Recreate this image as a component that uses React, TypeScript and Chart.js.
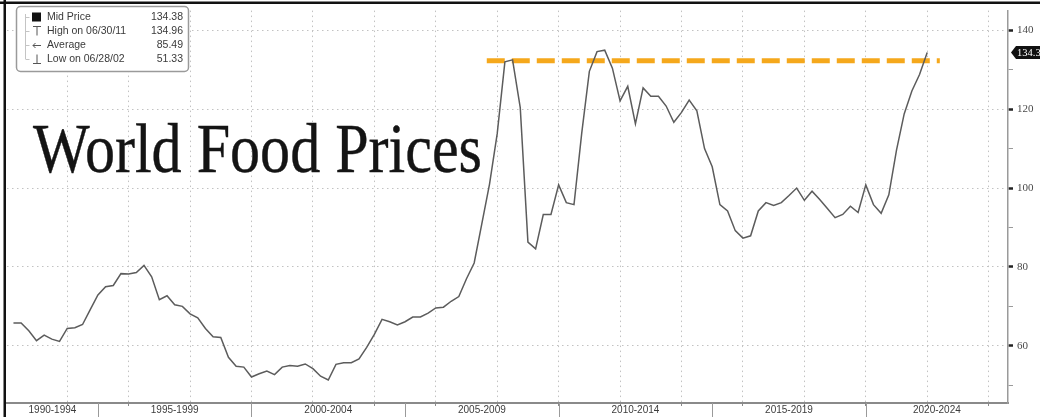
import React, { useEffect, useRef } from "react";
import { Chart, registerables } from "chart.js";

Chart.register(...registerables);

// ---- data ----
const firstQuarterEnd = 1992.25; // Q1 1992, quarterly observations
const midPrice = [
  65.8, 65.8, 63.8, 61.3, 62.7, 61.7, 61.1, 64.4, 64.6, 65.4,
  69.2, 72.9, 75.0, 75.3, 78.3, 78.2, 78.6, 80.4, 77.5, 71.7,
  72.7, 70.4, 70.0, 68.1, 67.1, 64.4, 62.3, 62.1, 57.1, 54.8,
  54.6, 52.1, 52.9, 53.6, 52.7, 54.6, 55.0, 54.8, 55.4, 54.2,
  52.3, 51.33, 55.3, 55.7, 55.7, 56.7, 59.6, 62.9, 66.7, 66.1,
  65.3, 66.1, 67.3, 67.3, 68.3, 69.6, 69.8, 71.3, 72.5, 77.0,
  81.0, 91.0, 101.0, 113.8, 132.0, 132.5, 120.4, 86.3, 84.6, 93.3,
  93.3, 100.8, 96.3, 95.8, 113.8, 129.6, 134.6, 134.96, 130.4, 122.1,
  125.8, 116.3, 125.4, 123.3, 123.3, 120.8, 116.7, 119.2, 122.3, 119.6,
  110.0, 105.4, 95.8, 94.2, 89.2, 87.3, 87.9, 94.2, 96.3, 95.6,
  96.3, 98.1, 100.0, 96.9, 99.2, 97.1, 94.8, 92.5, 93.3, 95.4,
  93.8, 100.8, 95.8, 93.6, 98.3, 109.6, 118.8, 124.6, 128.8, 134.38,
];
const refLevel = 132.3;
const refStart = 2007.66;
const refEnd = 2022.41;

const periodLabels = ["1990-1994", "1995-1999", "2000-2004", "2005-2009", "2010-2014", "2015-2019", "2020-2024"];
const periodStarts = [1990, 1995, 2000, 2005, 2010, 2015, 2020];
const gridYears = [1994, 1996, 1998, 2000, 2002, 2004, 2006, 2008, 2010, 2012, 2014, 2016, 2018, 2020, 2022, 2024];
const yTicks = [50, 60, 70, 80, 90, 100, 110, 120, 130, 140];
const yLabeled = [60, 80, 100, 120, 140];

const legendLabels = ["Mid Price", "High on 06/30/11", "Average", "Low on 06/28/02"];
const legendValues = ["134.38", "134.96", "85.49", "51.33"];
const titleText = "World Food Prices";

const xMin = 1992.04;
const xMax = 2024.63;
const yMin = 45.5;
const yMax = 145;

// ---- derived ----
const linePoints = midPrice.map((v, i) => ({ x: firstQuarterEnd + i * 0.25, y: v }));
const refPoints = [
  { x: refStart, y: refLevel },
  { x: refEnd, y: refLevel },
];
const labelCenters = periodStarts.map((s) => {
  const a = Math.max(s, xMin);
  const b = Math.min(s + 5, xMax);
  return (a + b) / 2;
});

function findLabel(v: number): string {
  for (let i = 0; i < labelCenters.length; i++) {
    if (Math.abs(labelCenters[i] - v) < 1e-6) return periodLabels[i];
  }
  return "";
}
const isGridYear = (v: any) => gridYears.some((g) => Math.abs(g - v) < 1e-6);

const decorPlugin = {
  id: "decor",
  beforeDatasetsDraw(chart: any) {
    const ctx = chart.ctx;
    ctx.save();
    ctx.font = '70px "Liberation Serif", "DejaVu Serif", serif';
    const w = ctx.measureText(titleText).width;
    ctx.translate(33, 172);
    ctx.scale(449 / w, 1);
    ctx.fillStyle = "#141414";
    ctx.strokeStyle = "#141414";
    ctx.lineWidth = 0.4;
    ctx.textBaseline = "alphabetic";
    ctx.textAlign = "left";
    ctx.fillText(titleText, 0, 0);
    ctx.strokeText(titleText, 0, 0);
    ctx.restore();
  },
  afterDraw(chart: any) {
    const ctx = chart.ctx;
    const area = chart.chartArea;
    const xs = chart.scales.x;
    const ys = chart.scales.y;
    ctx.save();

    // period dividers under the axis
    ctx.strokeStyle = "#9a9a9a";
    ctx.lineWidth = 1;
    periodStarts.forEach((s) => {
      const px = xs.getPixelForValue(s);
      if (px > area.left + 2 && px < area.right - 2) {
        ctx.beginPath();
        ctx.moveTo(Math.round(px) + 0.5, area.bottom);
        ctx.lineTo(Math.round(px) + 0.5, chart.height);
        ctx.stroke();
      }
    });

    // last value tag
    const last = midPrice[midPrice.length - 1];
    const ty = ys.getPixelForValue(last);
    const tx = area.right + 4;
    ctx.fillStyle = "#111";
    ctx.beginPath();
    ctx.moveTo(tx - 1, ty);
    ctx.lineTo(tx + 4, ty - 6.5);
    ctx.lineTo(chart.width + 5, ty - 6.5);
    ctx.lineTo(chart.width + 5, ty + 6.5);
    ctx.lineTo(tx + 4, ty + 6.5);
    ctx.closePath();
    ctx.fill();
    ctx.fillStyle = "#fff";
    ctx.font = '10.5px "Liberation Serif", "DejaVu Serif", serif';
    ctx.textBaseline = "middle";
    ctx.textAlign = "left";
    ctx.fillText(last.toFixed(2), tx + 5, ty + 0.5);

    // legend box
    const bx = 16.5, by = 6.5, bw = 172, bh = 65;
    ctx.beginPath();
    ctx.roundRect(bx, by, bw, bh, 4);
    ctx.fillStyle = "#fff";
    ctx.fill();
    ctx.strokeStyle = "#9a9a9a";
    ctx.lineWidth = 1.5;
    ctx.stroke();

    const rowY = (i: number) => 17 + i * 14;
    // tree
    ctx.strokeStyle = "#c4c4c4";
    ctx.lineWidth = 1;
    ctx.beginPath();
    ctx.moveTo(25.5, rowY(0) - 3);
    ctx.lineTo(25.5, rowY(3));
    for (let i = 0; i < 4; i++) {
      ctx.moveTo(25.5, rowY(i) + 0.5);
      ctx.lineTo(29.5, rowY(i) + 0.5);
    }
    ctx.stroke();

    // icons
    ctx.fillStyle = "#111";
    ctx.fillRect(32, rowY(0) - 4.5, 9, 9);
    ctx.strokeStyle = "#555";
    ctx.lineWidth = 1;
    ctx.beginPath();
    ctx.moveTo(33, rowY(1) - 4.5);
    ctx.lineTo(41, rowY(1) - 4.5);
    ctx.moveTo(37, rowY(1) - 4.5);
    ctx.lineTo(37, rowY(1) + 4.5);
    ctx.moveTo(33, rowY(2) + 0.5);
    ctx.lineTo(41, rowY(2) + 0.5);
    ctx.moveTo(35.5, rowY(2) - 2);
    ctx.lineTo(33, rowY(2) + 0.5);
    ctx.lineTo(35.5, rowY(2) + 3);
    ctx.moveTo(37, rowY(3) - 4.5);
    ctx.lineTo(37, rowY(3) + 4.5);
    ctx.moveTo(33, rowY(3) + 4.5);
    ctx.lineTo(41, rowY(3) + 4.5);
    ctx.stroke();

    ctx.fillStyle = "#3a3a3a";
    ctx.font = '10.5px "Liberation Sans", Arial, sans-serif';
    ctx.textBaseline = "middle";
    legendLabels.forEach((l, i) => {
      ctx.textAlign = "left";
      ctx.fillText(l, 47, rowY(i) + 0.5);
      ctx.textAlign = "right";
      ctx.fillText(legendValues[i], 183, rowY(i) + 0.5);
    });

    // black frame (top + left)
    ctx.fillStyle = "#111";
    ctx.fillRect(0, 1.5, chart.width, 2.5);
    ctx.fillRect(3.5, 0, 2.5, chart.height);
    ctx.restore();
  },
};

export default function App() {
  const canvasRef = useRef<HTMLCanvasElement | null>(null);

  useEffect(() => {
    document.body.style.margin = "0";
    const canvas = canvasRef.current;
    if (!canvas) return;
    const chart = new Chart(canvas, {
      type: "line",
      data: {
        datasets: [
          {
            label: "Mid Price",
            data: linePoints,
            borderColor: "#5c5c5c",
            borderWidth: 1.5,
            pointRadius: 0,
            tension: 0,
            fill: false,
          },
          {
            label: "Reference",
            data: refPoints,
            borderColor: "#F5A81C",
            borderWidth: 5,
            borderDash: [18, 7],
            borderCapStyle: "butt",
            pointRadius: 0,
            fill: false,
          },
        ],
      },
      options: {
        animation: false,
        responsive: false,
        devicePixelRatio: 1,
        layout: { padding: { top: 5, left: 7, right: 0, bottom: 0 } },
        plugins: {
          legend: { display: false },
          tooltip: { enabled: false },
          title: { display: false },
        },
        scales: {
          x: {
            type: "linear",
            position: "bottom",
            min: xMin,
            max: xMax,
            afterBuildTicks: (scale: any) => {
              const vals = [...gridYears, ...labelCenters].sort((a, b) => a - b);
              scale.ticks = vals.map((v) => ({ value: v }));
            },
            afterFit: (scale: any) => {
              scale.height = 14;
            },
            ticks: {
              autoSkip: false,
              maxRotation: 0,
              minRotation: 0,
              padding: -2,
              color: "#3c3c3c",
              font: { family: '"Liberation Sans", Arial, sans-serif', size: 10 },
              callback: (value: any) => findLabel(Number(value)),
            },
            grid: {
              drawOnChartArea: true,
              drawTicks: true,
              tickLength: 3,
              lineWidth: 1,
              color: (c: any) => (c.tick && isGridYear(c.tick.value) ? "#c2c2c2" : "transparent"),
              tickColor: (c: any) => (c.tick && isGridYear(c.tick.value) ? "#8a8a8a" : "transparent"),
            },
            border: { display: true, color: "#8a8a8a", width: 2, dash: [1.5, 3.5] },
          },
          y: {
            type: "linear",
            position: "right",
            min: yMin,
            max: yMax,
            afterBuildTicks: (scale: any) => {
              scale.ticks = yTicks.map((v) => ({ value: v }));
            },
            afterFit: (scale: any) => {
              scale.width = 32;
            },
            ticks: {
              padding: 4,
              color: "#4a4a4a",
              font: { family: '"Liberation Serif", "DejaVu Serif", serif', size: 11 },
              callback: (value: any) => (yLabeled.includes(Number(value)) ? String(value) : ""),
            },
            grid: {
              drawOnChartArea: true,
              drawTicks: true,
              tickLength: 5,
              color: (c: any) => (c.tick && yLabeled.includes(c.tick.value) ? "#c2c2c2" : "transparent"),
              tickColor: (c: any) => (c.tick && yLabeled.includes(c.tick.value) ? "#222" : "#9a9a9a"),
              tickWidth: (c: any) => (c.tick && yLabeled.includes(c.tick.value) ? 2.5 : 1),
            },
            border: { display: true, color: "#9a9a9a", width: 1.5, dash: [1.5, 3.5] },
          },
        },
      },
      plugins: [decorPlugin],
    } as any);
    return () => chart.destroy();
  }, []);

  return (
    <div style={{ width: 1040, height: 417, position: "relative", background: "#fff" }}>
      <canvas ref={canvasRef} width={1040} height={417} style={{ display: "block" }} />
    </div>
  );
}
